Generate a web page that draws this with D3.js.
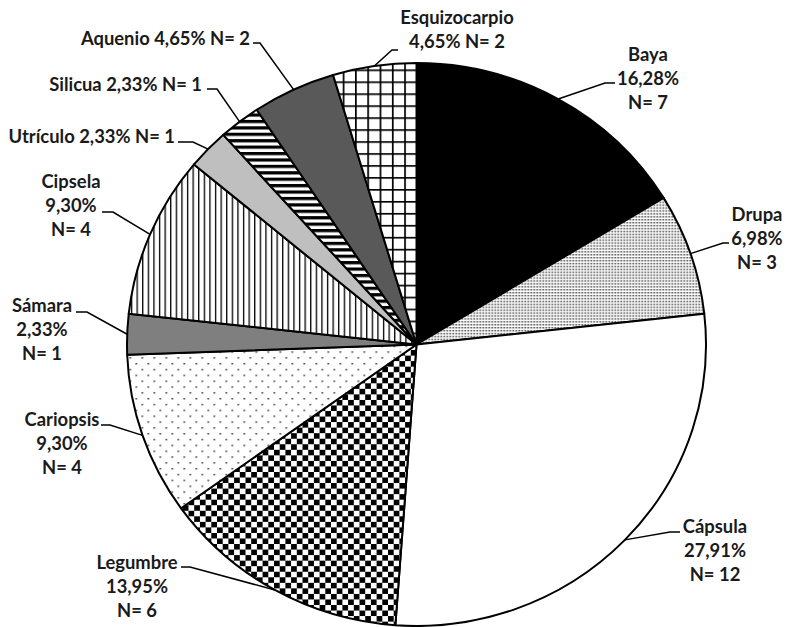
<!DOCTYPE html>
<html>
<head>
<meta charset="utf-8">
<script src="https://cdn.jsdelivr.net/npm/d3@7"></script>
<style>
  body { margin: 0; background: #fff; }
  text { font-family: Lato, "Open Sans", sans-serif; font-weight: bold; font-size: 18.4px; fill: #1a1a1a; }
</style>
</head>
<body>
<div id="chart"></div>
<script>
// fruit types, counts (N) -- total 43
var categories = ["Baya", "Drupa", "Cápsula", "Legumbre", "Cariopsis", "Sámara", "Cipsela", "Utrículo", "Silicua", "Aquenio", "Esquizocarpio"]
var counts = [7, 3, 12, 6, 4, 1, 4, 1, 1, 2, 2]
var fills = ["black", "url(#dots)", "white", "url(#checker)", "url(#sparse)", "#7f7f7f", "url(#vlines)", "#bfbfbf", "url(#hstripes)", "#595959", "url(#grid)"]

// where each label sits: text anchor x, first baseline, style, leader elbow + end
var labelLayout = [
    {x: 648, y: 61, anchor: "middle", mode: "stack", elbow: [605, 83], end: [615, 83]},
    {x: 757, y: 221, anchor: "middle", mode: "stack", elbow: [723, 243], end: [729, 243]},
    {x: 715, y: 533, anchor: "middle", mode: "stack", elbow: [670, 532], end: [680, 532]},
    {x: 137, y: 569, anchor: "middle", mode: "stack", elbow: [190, 567], end: [181, 567]},
    {x: 62, y: 426, anchor: "middle", mode: "stack", elbow: [110, 425], end: [101, 425]},
    {x: 42, y: 312, anchor: "middle", mode: "stack", elbow: [87, 312], end: [76, 312]},
    {x: 71, y: 188, anchor: "middle", mode: "stack", elbow: [113, 212], end: [102, 212]},
    {x: 175, y: 143, anchor: "end", mode: "row", elbow: [193, 142], end: [178, 142]},
    {x: 202, y: 91, anchor: "end", mode: "row", elbow: [217, 89], end: [207, 89]},
    {x: 250, y: 45, anchor: "end", mode: "row", elbow: [260, 43], end: [253, 43]},
    {x: 457, y: 24, anchor: "middle", mode: "two", elbow: [392, 50], end: [398, 50]}
]

var width = 787, height = 627
var cx = 416.5, cy = 344.5, rx = 289.5, ry = 281.5
var total = d3.sum(counts)

function pctText(n) {
    return (n / total * 100).toFixed(2).replace(".", ",") + "%"
}

var svg = d3.select("#chart").append("svg").attr("width", width).attr("height", height)
var defs = svg.append("defs")

// grid (esquizocarpio)
var p = defs.append("pattern").attr("id", "grid").attr("patternUnits", "userSpaceOnUse").attr("width", 12.3).attr("height", 12.3)
p.append("rect").attr("width", 12.3).attr("height", 12.3).attr("fill", "white")
p.append("rect").attr("width", 1.7).attr("height", 12.3).attr("fill", "black")
p.append("rect").attr("width", 12.3).attr("height", 1.7).attr("fill", "black")

// fine dots (drupa)
p = defs.append("pattern").attr("id", "dots").attr("patternUnits", "userSpaceOnUse").attr("width", 3).attr("height", 3)
p.append("rect").attr("width", 3).attr("height", 3).attr("fill", "white")
p.append("rect").attr("width", 1.5).attr("height", 1.5).attr("fill", "#333")

// checkerboard (legumbre)
p = defs.append("pattern").attr("id", "checker").attr("patternUnits", "userSpaceOnUse").attr("width", 11.4).attr("height", 11.4)
p.append("rect").attr("width", 11.4).attr("height", 11.4).attr("fill", "white")
p.append("rect").attr("width", 5.7).attr("height", 5.7).attr("fill", "black")
p.append("rect").attr("x", 5.7).attr("y", 5.7).attr("width", 5.7).attr("height", 5.7).attr("fill", "black")

// sparse dots (cariopsis)
p = defs.append("pattern").attr("id", "sparse").attr("patternUnits", "userSpaceOnUse").attr("width", 12).attr("height", 12)
p.append("rect").attr("width", 12).attr("height", 12).attr("fill", "white")
p.append("rect").attr("x", 1).attr("y", 1).attr("width", 1.5).attr("height", 1.5).attr("fill", "#222")
p.append("rect").attr("x", 7).attr("y", 7).attr("width", 1.5).attr("height", 1.5).attr("fill", "#222")

// vertical lines (cipsela)
p = defs.append("pattern").attr("id", "vlines").attr("patternUnits", "userSpaceOnUse").attr("width", 5.6).attr("height", 10)
p.append("rect").attr("width", 5.6).attr("height", 10).attr("fill", "white")
p.append("rect").attr("width", 1.3).attr("height", 10).attr("fill", "black")

// wide horizontal stripes (silicua)
p = defs.append("pattern").attr("id", "hstripes").attr("patternUnits", "userSpaceOnUse").attr("width", 10).attr("height", 6.6)
p.append("rect").attr("width", 10).attr("height", 6.6).attr("fill", "white")
p.append("rect").attr("width", 10).attr("height", 3.3).attr("fill", "black")

var pie = d3.pie().sort(null).value(function(d) { return d })
var arcs = pie(counts)
var arc = d3.arc().innerRadius(0).outerRadius(rx)

var g = svg.append("g").attr("transform", "translate(" + cx + "," + cy + ") scale(1," + (ry / rx) + ")")
g.selectAll("path")
    .data(arcs)
    .enter()
    .append("path")
    .attr("d", arc)
    .attr("fill", function(d, i) { return fills[i] })
    .attr("stroke", "black")
    .attr("stroke-width", 2)
    .attr("stroke-linejoin", "round")
    .attr("vector-effect", "non-scaling-stroke")

// leader lines
var line = d3.line()
svg.selectAll(".leader")
    .data(arcs)
    .enter()
    .append("path")
    .attr("class", "leader")
    .attr("d", function(d, i) {
        var a = (d.startAngle + d.endAngle) / 2
        var edge = [cx + rx * Math.sin(a), cy - ry * Math.cos(a)]
        var l = labelLayout[i]
        return line([edge, l.elbow, l.end])
    })
    .attr("fill", "none")
    .attr("stroke", "black")
    .attr("stroke-width", 1.5)

// labels
categories.forEach(function(name, i) {
    var l = labelLayout[i]
    var n = counts[i]
    var lines
    if (l.mode == "stack") lines = [name, pctText(n), "N= " + n]
    else if (l.mode == "two") lines = [name, pctText(n) + " N= " + n]
    else lines = [name + " " + pctText(n) + " N= " + n]
    var t = svg.append("text").attr("text-anchor", l.anchor)
    lines.forEach(function(s, j) {
        t.append("tspan").attr("x", l.x).attr("y", l.y + j * 23.8).text(s)
    })
})
</script>
</body>
</html>
